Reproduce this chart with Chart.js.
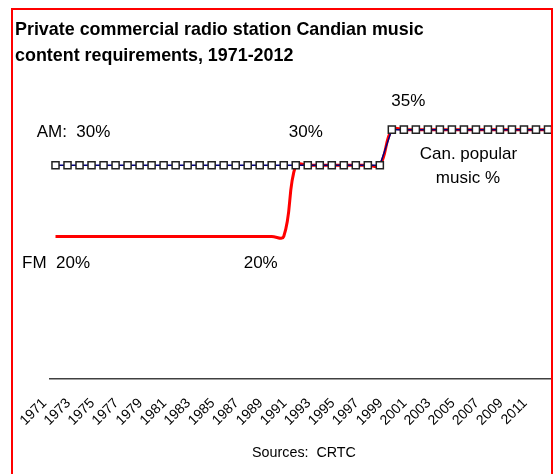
<!DOCTYPE html>
<html>
<head>
<meta charset="utf-8">
<script src="https://cdn.jsdelivr.net/npm/chart.js@4/dist/chart.umd.min.js"></script>
<style>
  html, body { margin: 0; padding: 0; background: #ffffff; }
  #wrap { position: relative; width: 554px; height: 474px; overflow: hidden;
          font-family: "Liberation Sans", Arial, sans-serif; color: #000; }
  #chart { position: absolute; left: 0; top: 0; }
  #mask { position: absolute; left: 552px; top: 0; width: 10px; height: 474px; background: #ffffff; }
  #frame { position: absolute; left: 11px; top: 8px; width: 538px; height: 520px;
           border: 2px solid #ff0000; }
  #title { position: absolute; left: 15px; top: 16px; font-weight: bold;
           font-size: 17.9px; line-height: 26px; white-space: nowrap; }
  #source { position: absolute; left: 204px; width: 200px; top: 444px;
            text-align: center; font-size: 14.3px; line-height: 17px; white-space: pre; }
</style>
</head>
<body>
<div id="wrap">
  <canvas id="chart" width="554" height="474"></canvas>
  <div id="mask"></div>
  <div id="frame"></div>
  <div id="title">Private commercial radio station Candian music<br>content requirements, 1971-2012</div>
  <div id="source">Sources:  CRTC</div>
</div>
<script>
// Years on the category axis
const years = [
  '1971','1972','1973','1974','1975','1976','1977','1978','1979','1980',
  '1981','1982','1983','1984','1985','1986','1987','1988','1989','1990',
  '1991','1992','1993','1994','1995','1996','1997','1998','1999','2000',
  '2001','2002','2003','2004','2005','2006','2007','2008','2009','2010',
  '2011','2012'
];

// Years that carry a printed tick label
const tickYears = [
  '1971','1973','1975','1977','1979','1981','1983','1985','1987','1989',
  '1991','1993','1995','1997','1999','2001','2003','2005','2007','2009','2011'
];

// Required Canadian popular music share (%) for AM stations
const amShare = [
  30,30,30,30,30,30,30,30,30,30,
  30,30,30,30,30,30,30,30,30,30,
  30,30,30,30,30,30,30,30,35,35,
  35,35,35,35,35,35,35,35,35,35,
  35,35
];

// Required Canadian popular music share (%) for FM stations
const fmShare = [
  20,20,20,20,20,20,20,20,20,20,
  20,20,20,20,20,20,20,20,20,20,
  30,30,30,30,30,30,30,30,35,35,
  35,35,35,35,35,35,35,35,35,35,
  35,35
];

// Text notes placed next to the lines, anchored to a category and a value
const noteFont = '17px "Liberation Sans", Arial, sans-serif';
const notes = [
  { text: 'AM:  ' + amShare[0] + '%', i: 0,  v: amShare[0],  dx: 18,  dy: -34 },
  { text: amShare[20] + '%',          i: 20, v: amShare[20], dx: 10,  dy: -34 },
  { text: amShare[28] + '%',          i: 28, v: amShare[28], dx: 16.5, dy: -30 },
  { text: 'Can. popular',             i: 34, v: amShare[34], dx: 4.5, dy: 23 },
  { text: 'music %',                  i: 34, v: amShare[34], dx: 4,   dy: 47.5 },
  { text: 'FM  ' + fmShare[0] + '%',  i: 0,  v: fmShare[0],  dx: 0.5, dy: 25 },
  { text: fmShare[17] + '%',          i: 17, v: fmShare[17], dx: 1,   dy: 25 }
];

const notesPlugin = {
  id: 'lineNotes',
  afterDatasetsDraw(chart) {
    const { ctx, scales: { x, y } } = chart;
    ctx.save();
    ctx.font = noteFont;
    ctx.fillStyle = '#000000';
    ctx.textAlign = 'center';
    ctx.textBaseline = 'alphabetic';
    for (const n of notes) {
      const px = x.getPixelForValue(n.i) + n.dx;
      const py = y.getPixelForValue(n.v) + n.dy + 6.1;
      ctx.fillText(n.text, px, py);
    }
    ctx.restore();
  }
};

new Chart(document.getElementById('chart'), {
  type: 'line',
  data: {
    labels: years,
    datasets: [
      {
        label: 'AM',
        data: amShare,
        borderColor: '#000080',
        borderWidth: 1.5,
        tension: 0,
        pointStyle: 'rect',
        pointRadius: 5,
        pointHoverRadius: 5,
        pointBackgroundColor: '#ffffff',
        pointBorderColor: '#222222',
        pointBorderWidth: 1.5,
        clip: false,
        order: 0
      },
      {
        label: 'FM',
        data: fmShare,
        borderColor: '#ff0000',
        borderWidth: 3,
        tension: 0.4,
        pointRadius: 0,
        pointHoverRadius: 0,
        clip: false,
        order: 1
      }
    ]
  },
  options: {
    responsive: false,
    animation: false,
    events: [],
    layout: { autoPadding: false, padding: { left: 49.5, right: 0, top: 94, bottom: 35 } },
    plugins: {
      legend: { display: false },
      title: { display: false },
      tooltip: { enabled: false }
    },
    scales: {
      x: {
        type: 'category',
        offset: true,
        grid: { display: false, drawTicks: false },
        border: { display: true, color: '#404040', width: 1.5 },
        ticks: {
          autoSkip: false,
          minRotation: 45,
          maxRotation: 45,
          padding: 16,
          labelOffset: -11,
          color: '#000000',
          font: { family: '"Liberation Sans", Arial, sans-serif', size: 14 },
          callback(value) {
            const lab = this.getLabelForValue(value);
            return tickYears.includes(lab) ? lab : '';
          }
        },
        afterFit(scale) {
          scale.height = 60;
          scale.paddingLeft = 0;
          scale.paddingRight = 0;
        }
      },
      y: {
        display: false,
        min: 0,
        max: 40
      }
    }
  },
  plugins: [notesPlugin]
});
</script>
</body>
</html>
